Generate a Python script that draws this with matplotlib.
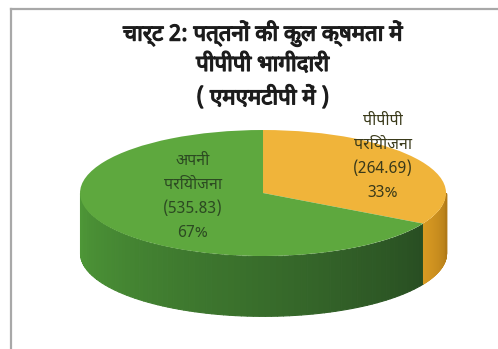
import numpy as np
import matplotlib
matplotlib.use("Agg")
import matplotlib.pyplot as plt
import matplotlib.patheffects as pe
from matplotlib import font_manager
from matplotlib.lines import Line2D

# data
labels = ["पीपीपी\nपरियोजना", "अपनी\nपरियोजना"]
values = [264.69, 535.83]
pcts = ["33%", "67%"]
title = "चार्ट 2: पत्तनों की कुल क्षमता में\nपीपीपी भागीदारी\n( एमएमटीपी में )"

TOP = ["#f0b43a", "#5ea83e"]
SIDE_L = ["#d99a22", "#4f9a38"]
SIDE_R = ["#b07a18", "#284d22"]
TXT = ["#3a3a1a", "#2c4a22"]

names = {f.name for f in font_manager.fontManager.ttflist}
prefs = ["Noto Sans Devanagari", "Hind", "Mukta", "Poppins"]
pick = [p for p in prefs if p in names][:1]
plt.rcParams["font.family"] = pick + ["DejaVu Sans"]

fig = plt.figure(figsize=(4.98, 3.49), dpi=100, facecolor="white")
# chart-area frame (left and top edges visible)
fig.add_artist(Line2D([11 / 498, 11 / 498], [0, 1 - 8.5 / 349], color="#a8a8a8", lw=1.6))
fig.add_artist(Line2D([11 / 498, 1], [1 - 8.5 / 349] * 2, color="#a8a8a8", lw=1.6))
fig.text(263 / 498, 1 - 20 / 349, title, ha="center", va="top", fontsize=16,
         fontweight="bold", color="#1c1c1c", linespacing=1.45,
         path_effects=[pe.withStroke(linewidth=0.9, foreground="#1c1c1c")])

ax = fig.add_axes([0.1423, 0.0679, 0.7717, 0.5686])
depth = 0.95
wedges, _ = ax.pie(values, colors=TOP, startangle=90, counterclock=False,
                   radius=1, wedgeprops=dict(linewidth=0))
for w in wedges:
    w.set_zorder(5)

# side wall, front half only (180..360 deg)
frac = np.cumsum([0] + values) / sum(values)
cut = (90 - frac[1] * 360) % 360
spans = [(180.0, cut, 1), (cut, 360.0, 0)]
for a0, a1, k in spans:
    n = 80
    th = np.linspace(a0, a1, n + 1)
    c0 = np.array(matplotlib.colors.to_rgb(SIDE_L[k]))
    c1 = np.array(matplotlib.colors.to_rgb(SIDE_R[k]))
    for i in range(n):
        t = np.radians(np.linspace(th[i], th[i + 1], 4))
        x = np.cos(t)
        y = np.sin(t)
        col = c0 + (c1 - c0) * (i / n)
        ax.fill_between(x, y, y - depth, color=col, lw=0.8, edgecolor=col,
                        antialiased=False, zorder=2)

ax.set_aspect("auto")
ax.set_xlim(-1.05, 1.05)
ax.set_ylim(-2.1, 1.05)
ax.axis("off")

pos = [(383, 157), (193, 197)]
for i in range(2):
    x, y = pos[i]
    fig.text(x / 498, 1 - y / 349,
             f"{labels[i]}\n({values[i]:.2f})\n{pcts[i]}",
             ha="center", va="center", fontsize=11.5, color=TXT[i], linespacing=1.62)

fig.savefig("out.png", dpi=100, facecolor="white")
